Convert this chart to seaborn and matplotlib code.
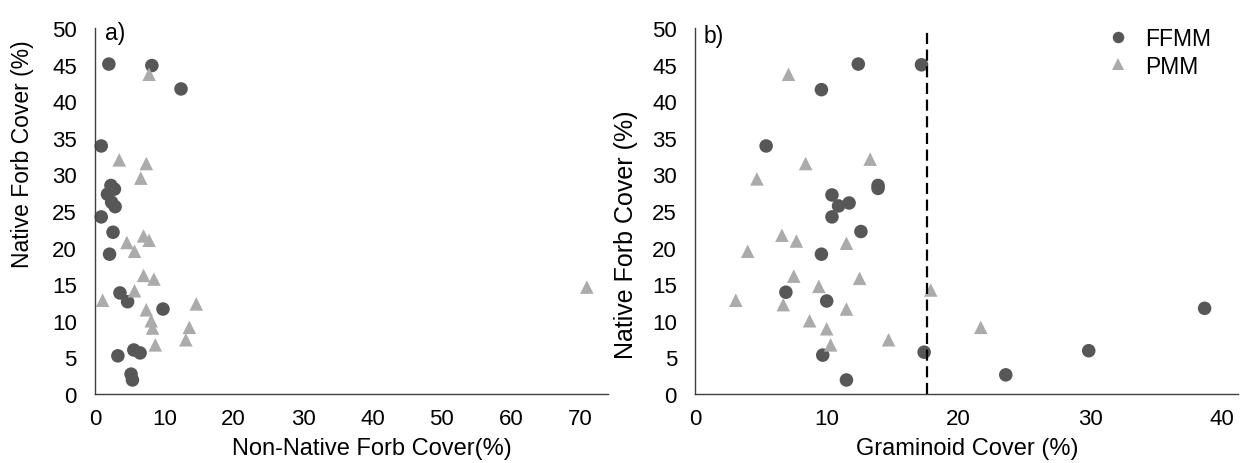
import matplotlib
matplotlib.use('Agg')
import matplotlib.pyplot as plt
import pandas as pd
import seaborn as sns

# panel a) non-native forb cover vs native forb cover
left_ffmm_x = [2.0, 8.2, 12.4, 0.9, 2.3, 2.8, 1.8, 2.4, 2.9, 0.9,
               2.6, 2.1, 3.6, 4.7, 9.8, 3.3, 5.6, 6.5, 5.2, 5.4]
left_ffmm_y = [45.1, 44.9, 41.7, 33.9, 28.5, 28.0, 27.3, 26.2, 25.6, 24.2,
               22.1, 19.1, 13.8, 12.6, 11.6, 5.2, 6.0, 5.6, 2.7, 1.9]
left_pmm_x = [7.8, 3.5, 7.4, 6.6, 7.0, 7.8, 4.6, 5.7, 7.0, 8.5,
              5.7, 1.1, 7.4, 14.6, 8.1, 8.3, 13.6, 13.1, 8.7, 70.9]
left_pmm_y = [43.7, 32.0, 31.5, 29.5, 21.6, 21.0, 20.7, 19.5, 16.2, 15.7,
              14.1, 12.8, 11.5, 12.3, 10.0, 9.0, 9.1, 7.4, 6.7, 14.6]

# panel b) graminoid cover vs native forb cover
right_ffmm_x = [12.4, 17.2, 9.6, 5.4, 13.9, 13.9, 10.4, 10.9, 11.7, 10.4,
                12.6, 9.6, 6.9, 10.0, 38.7, 29.9, 17.4, 9.7, 23.6, 11.5]
right_ffmm_y = [45.1, 45.0, 41.6, 33.9, 28.5, 28.1, 27.2, 25.7, 26.1, 24.2,
                22.2, 19.1, 13.9, 12.7, 11.7, 5.9, 5.7, 5.3, 2.6, 1.9]
right_pmm_x = [7.1, 8.4, 13.3, 4.7, 6.6, 7.7, 11.5, 4.0, 7.5, 12.5,
               9.4, 17.9, 3.1, 6.7, 11.5, 8.7, 10.0, 10.3, 14.7, 21.7]
right_pmm_y = [43.7, 31.5, 32.1, 29.4, 21.7, 20.9, 20.6, 19.5, 16.1, 15.8,
               14.7, 14.2, 12.8, 12.2, 11.6, 10.0, 8.9, 6.7, 7.4, 9.1]

threshold = 17.6
groups = ['FFMM', 'PMM']
colors = {'FFMM': '#575757', 'PMM': '#ababab'}
markers = {'FFMM': 'o', 'PMM': '^'}


def make_df(fx, fy, px, py):
    df1 = pd.DataFrame({'x': fx, 'y': fy, 'Group': 'FFMM'})
    df2 = pd.DataFrame({'x': px, 'y': py, 'Group': 'PMM'})
    return pd.concat([df1, df2], ignore_index=True)


def style_axis(ax, xmax, xtick_max, xlabel, tag, ylab_size, ylab_pos, xlab_x, tag_pos):
    ax.set_xlim(0, xmax)
    ax.set_ylim(0, 50)
    ax.set_xticks(range(0, xtick_max + 1, 10))
    ax.set_yticks(range(0, 51, 5))
    ax.set_xlabel(xlabel, fontsize=17, color='black')
    ax.set_ylabel('Native Forb Cover (%)', fontsize=ylab_size, color='black')
    ax.xaxis.set_label_coords(xlab_x, -0.118)
    ax.yaxis.set_label_coords(*ylab_pos)
    ax.tick_params(labelsize=16, direction='out', length=5, width=1, color='#404040',
                   labelcolor='black')
    ax.tick_params(axis='x', pad=5)
    ax.tick_params(axis='y', pad=8)
    for side in ['top', 'right']:
        ax.spines[side].set_visible(False)
    for side in ['left', 'bottom']:
        ax.spines[side].set_color('#404040')
        ax.spines[side].set_linewidth(1)
    ax.text(tag_pos[0], tag_pos[1], tag, transform=ax.transAxes, fontsize=16.5,
            va='center', ha='left', color='black')


sns.set_style('white')
plt.rcParams['font.family'] = ['Liberation Sans', 'DejaVu Sans']

fig = plt.figure(figsize=(12.4, 4.64), dpi=100)
ax1 = fig.add_axes([0.0766, 0.149, 0.414, 0.788])
ax2 = fig.add_axes([0.5605, 0.149, 0.4375, 0.788])

left_df = make_df(left_ffmm_x, left_ffmm_y, left_pmm_x, left_pmm_y)
right_df = make_df(right_ffmm_x, right_ffmm_y, right_pmm_x, right_pmm_y)

sns.scatterplot(data=left_df, x='x', y='y', hue='Group', style='Group', hue_order=groups,
                palette=colors, markers=markers, s=95, linewidth=0, ax=ax1, legend=False,
                clip_on=False)
sns.scatterplot(data=right_df, x='x', y='y', hue='Group', style='Group', hue_order=groups,
                palette=colors, markers=markers, s=95, linewidth=0, ax=ax2, legend=True,
                clip_on=False)
ax2.axvline(threshold, color='black', linewidth=1.6, dashes=(5, 2.5))

style_axis(ax1, 74, 70, 'Non-Native Forb Cover(%)', 'a)', 16.5, (-0.119, 0.658), 0.54,
           (0.02, 0.989))
style_axis(ax2, 41.2, 40, 'Graminoid Cover (%)', 'b)', 18, (-0.105, 0.437), 0.501,
           (0.015, 0.981))

leg = ax2.legend(loc='upper right', bbox_to_anchor=(0.99, 1.06), frameon=False, fontsize=16.5,
                 handletextpad=0.2, labelspacing=0.2, markerscale=0.85, labelcolor='black')

fig.savefig('out.png', dpi=100)
